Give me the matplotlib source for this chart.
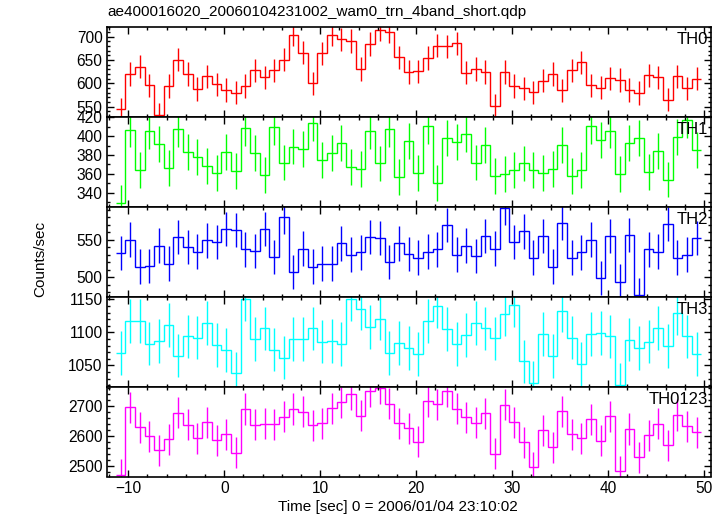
import numpy as np
import matplotlib
matplotlib.use("Agg")
import matplotlib.pyplot as plt
from matplotlib.ticker import MultipleLocator

plt.rcParams['font.family'] = ['Liberation Sans', 'DejaVu Sans']

# ---- data (1-s bins) ----
bin_start = -11.3
bin_width = 1.0

th0 = [544, 620, 636, 596, 532, 594, 651, 620, 588, 615,
       598, 586, 580, 594, 628, 613, 628, 651, 704, 666,
       600, 664, 704, 694, 691, 631, 684, 715, 711, 656,
       624, 626, 654, 681, 679, 686, 623, 631, 624, 552,
       624, 594, 589, 581, 606, 620, 585, 628, 645, 596,
       591, 611, 607, 586, 579, 617, 613, 565, 615, 589,
       610]
th1 = [329, 407, 364, 405, 392, 366, 408, 383, 378, 368,
       361, 383, 363, 409, 382, 359, 410, 372, 389, 386,
       414, 375, 382, 393, 367, 365, 405, 371, 408, 357,
       395, 361, 411, 350, 398, 394, 402, 372, 391, 358,
       360, 364, 371, 364, 361, 365, 391, 358, 364, 411,
       396, 406, 360, 393, 398, 362, 384, 354, 399, 417,
       385]
th2 = [532, 550, 514, 515, 542, 518, 554, 540, 534, 549,
       547, 564, 563, 537, 535, 564, 527, 580, 507, 538,
       514, 518, 518, 545, 530, 533, 554, 552, 520, 545,
       531, 526, 534, 537, 570, 530, 542, 528, 555, 538,
       592, 547, 561, 526, 555, 514, 572, 526, 533, 550,
       499, 555, 494, 556, 476, 537, 534, 571, 526, 530,
       552]
th3 = [1069, 1117, 1117, 1083, 1087, 1111, 1065, 1094, 1092, 1114,
       1081, 1073, 1038, 1150, 1090, 1106, 1074, 1062, 1090, 1090,
       1106, 1086, 1087, 1082, 1150, 1136, 1108, 1121, 1069, 1084,
       1076, 1067, 1117, 1140, 1105, 1082, 1096, 1114, 1106, 1091,
       1128, 1141, 1056, 1023, 1098, 1064, 1133, 1092, 1052, 1098,
       1099, 1094, 1021, 1089, 1076, 1086, 1107, 1079, 1129, 1094,
       1067]
th0123 = [2470, 2697, 2630, 2600, 2553, 2589, 2679, 2639, 2593, 2646,
          2586, 2607, 2545, 2691, 2639, 2642, 2640, 2665, 2691, 2682,
          2636, 2643, 2693, 2713, 2740, 2668, 2750, 2761, 2709, 2643,
          2626, 2581, 2717, 2707, 2751, 2692, 2663, 2645, 2677, 2541,
          2705, 2646, 2579, 2496, 2620, 2563, 2683, 2607, 2593, 2656,
          2585, 2667, 2483, 2624, 2529, 2603, 2641, 2569, 2671, 2633,
          2613]

# error bar half-widths (per band)
errors = [25, 19, 23, 33, 52]
labels = ["TH0", "TH1", "TH2", "TH3", "TH0123"]
colors = ["#ff0000", "#00ff00", "#0000ff", "#00ffff", "#ff00ff"]
series = [th0, th1, th2, th3, th0123]

ylims = [(528, 720.7), (325, 420.5), (473.7, 594), (1018, 1154), (2465, 2766)]
ymajor = [50, 20, 50, 50, 100]
yminor = [10, 10, 10, 10, 20]

title = "ae400016020_20060104231002_wam0_trn_4band_short.qdp"
xlabel = "Time [sec] 0 = 2006/01/04 23:10:02"
ylabel = "Counts/sec"

W, H = 726, 516
fig = plt.figure(figsize=(W / 100, H / 100), dpi=100)
left, right = 106.7 / W, 711 / W
top, bottom = 1 - 27 / H, 1 - 476.5 / H
ph = (top - bottom) / 5

for i, (vals, err, lab, col) in enumerate(zip(series, errors, labels, colors)):
    ax = fig.add_axes([left, top - (i + 1) * ph, right - left, ph])
    n = len(vals)
    edges = bin_start + bin_width * np.arange(n + 1)
    centers = 0.5 * (edges[:-1] + edges[1:])
    ax.stairs(vals, edges, baseline=None, color=col, linewidth=1.0)
    ax.errorbar(centers, vals, yerr=err, fmt='none', ecolor=col, elinewidth=1.0)
    ax.set_xlim(-12.25, 50.7)
    ax.set_ylim(*ylims[i])
    ax.xaxis.set_major_locator(MultipleLocator(10))
    ax.xaxis.set_minor_locator(MultipleLocator(2))
    ax.yaxis.set_major_locator(MultipleLocator(ymajor[i]))
    ax.yaxis.set_minor_locator(MultipleLocator(yminor[i]))
    ax.tick_params(which='both', direction='in', top=True, right=True,
                   width=1.0, colors='black', labelsize=11.2, pad=3)
    ax.tick_params(which='major', length=5)
    ax.tick_params(which='minor', length=2.5)
    for sp in ax.spines.values():
        sp.set_linewidth(1.2)
        sp.set_color('black')
    if i < 4:
        ax.tick_params(labelbottom=False)
    ax.text(0.995, 0.94, lab, transform=ax.transAxes, ha='right', va='top',
            fontsize=12, color='black')

fig.text(107 / W, 1 - 12 / H, title, ha='left', va='center', fontsize=11)
fig.text(398 / W, 1 - 507 / H, xlabel, ha='center', va='center', fontsize=11)
fig.text(40 / W, 1 - 259 / H, ylabel, ha='center', va='center', rotation=90,
         fontsize=11)

fig.savefig("out.png", dpi=100)
